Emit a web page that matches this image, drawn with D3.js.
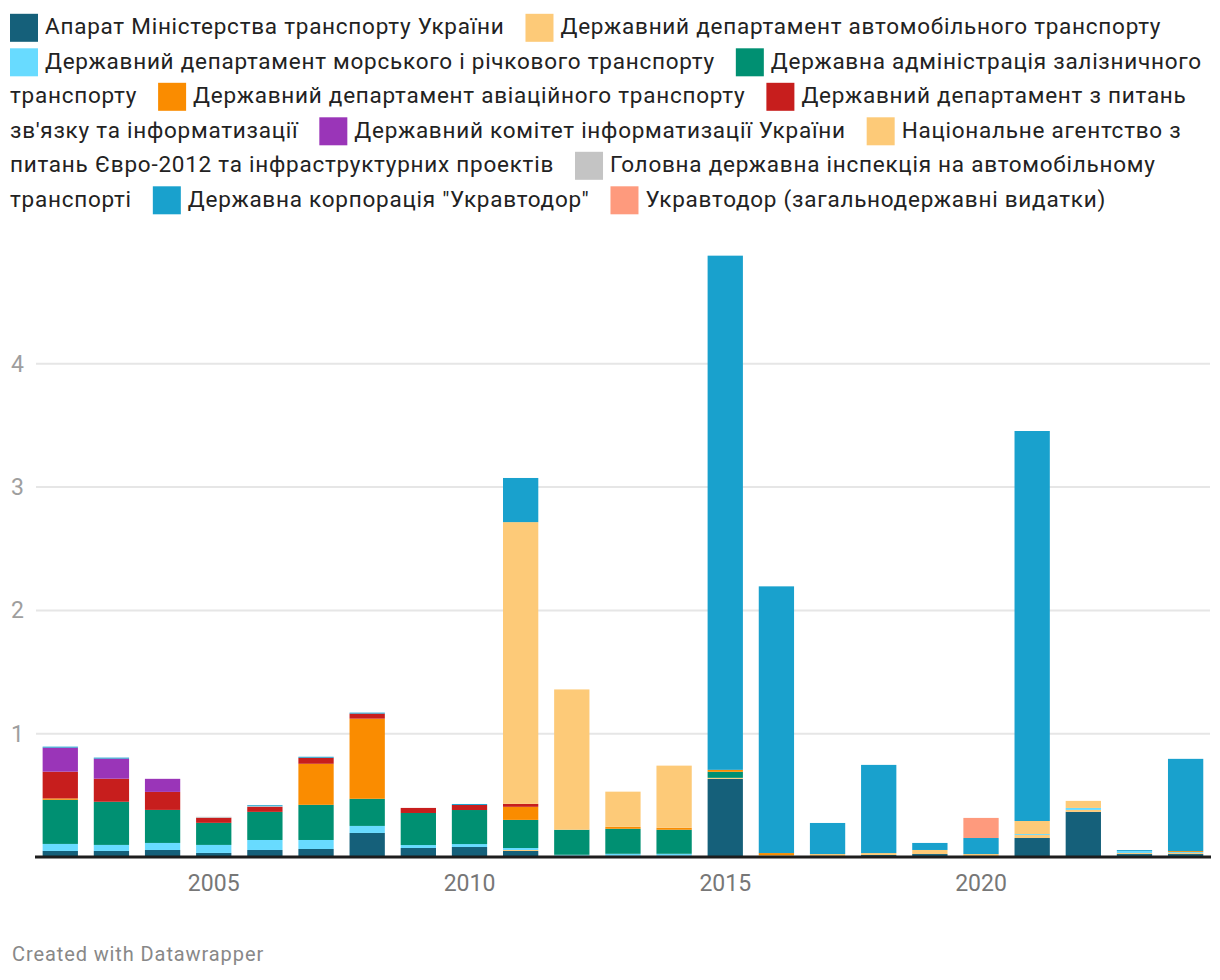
<!DOCTYPE html>
<html><head><meta charset="utf-8">
<script src="https://cdn.jsdelivr.net/npm/d3@7"></script>
<style>
body{margin:0;background:#fff;}
svg{display:block;font-family:Roboto,"Noto Sans",sans-serif;}
</style></head>
<body><svg id="c" width="1220" height="980"></svg>
<script>
const years = d3.range(2002, 2025);
const seriesNames = [
  "Апарат Міністерства транспорту України",
  "Державний департамент автомобільного транспорту",
  "Державний департамент морського і річкового транспорту",
  "Державна адміністрація залізничного транспорту",
  "Державний департамент авіаційного транспорту",
  "Державний департамент з питань зв'язку та інформатизації",
  "Державний комітет інформатизації України",
  "Національне агентство з питань Євро-2012 та інфраструктурних проектів",
  "Головна державна інспекція на автомобільному транспорті",
  "Державна корпорація \"Укравтодор\"",
  "Укравтодор (загальнодержавні видатки)"
];
const seriesColors = ["#15607a","#fdca78","#68dbff","#009072","#fa8c00","#c71e1d","#9a35b8","#fdca78","#c4c4c4","#19a1cd","#fe9a7d"];

// values per year 2002..2024
const aparat   = [0.049,0.049,0.057,0.033,0.057,0.065,0.195,0.073,0.081,0.049,0.005,0.005,0.005,0.634,0.008,0.008,0.016,0.024,0.008,0.154,0.366,0.024,0.024];
const avto     = [0,0,0,0,0,0,0,0,0,0.008,0.005,0.005,0.005,0.008,0.008,0.016,0.016,0.033,0.016,0.024,0.016,0.008,0.008];
const morskyi  = [0.057,0.049,0.057,0.065,0.081,0.073,0.057,0.024,0.024,0.016,0.008,0.016,0.016,0,0,0,0,0,0,0.008,0.016,0.016,0.008];
const zaliznyc = [0.358,0.350,0.268,0.179,0.228,0.285,0.220,0.260,0.276,0.228,0.203,0.203,0.195,0.049,0,0,0,0,0,0,0,0,0];
const aviatsia = [0.011,0,0,0,0,0.333,0.650,0,0,0.106,0,0.016,0.016,0.016,0.016,0,0,0,0,0,0,0,0.008];
const zviazok  = [0.217,0.187,0.146,0.041,0.041,0.049,0.041,0.041,0.041,0.024,0,0,0,0,0,0,0,0,0,0,0,0,0];
const komitet  = [0.195,0.163,0.106,0,0,0,0,0,0,0,0,0,0,0,0,0,0,0,0,0,0,0,0];
const agentstvo= [0,0,0,0,0,0,0,0,0,2.285,1.138,0.285,0.504,0,0,0,0,0,0,0.106,0.057,0,0];
const inspektsia=[0,0,0,0.008,0.005,0,0,0,0,0,0,0,0,0,0,0,0,0,0,0,0,0,0];
const ukravtodor=[0.008,0.008,0,0,0.008,0.008,0.008,0,0.008,0.358,0,0,0,4.170,2.163,0.252,0.715,0.057,0.130,3.163,0,0.008,0.748];
const ukrZahal = [0,0,0,0,0,0,0,0,0,0,0,0,0,0,0,0,0,0,0.163,0,0,0,0];
const seriesValues = [aparat,avto,morskyi,zaliznyc,aviatsia,zviazok,komitet,agentstvo,inspektsia,ukravtodor,ukrZahal];
const yTicks = [1,2,3,4];
const xTickYears = [2005,2010,2015,2020];

const svg = d3.select("#c");
const keys = seriesNames.map((d,i)=>"s"+i);
const table = years.map((yr,j)=>{const o={year:yr}; keys.forEach((k,i)=>o[k]=seriesValues[i][j]); return o;});

const x = d3.scaleBand().domain(years).range([34.7,1211.2]).paddingInner(0.31).paddingOuter(0.155);
const y = d3.scaleLinear().domain([0,5]).range([857, 857-123.3*5]);

// gridlines
svg.append("g").selectAll("line").data(yTicks).join("line")
  .attr("x1",36).attr("x2",1210).attr("y1",d=>y(d)).attr("y2",d=>y(d))
  .attr("stroke","#e6e6e6").attr("stroke-width",2);
svg.append("g").selectAll("text").data(yTicks).join("text")
  .attr("x",11).attr("y",d=>y(d)).attr("dy","0.35em")
  .attr("font-size",23).attr("fill","#9e9e9e").text(d=>d);

// bars
const stack = d3.stack().keys(keys)(table);
svg.append("g").selectAll("g").data(stack).join("g")
  .attr("fill",(d,i)=>seriesColors[i])
  .selectAll("rect").data(d=>d.filter(p=>p[1]-p[0]>0)).join("rect")
  .attr("x",d=>x(d.data.year)).attr("width",x.bandwidth())
  .attr("y",d=>y(d[1])).attr("height",d=>y(d[0])-y(d[1]));

// baseline
svg.append("line").attr("x1",35).attr("x2",1211).attr("y1",857).attr("y2",857)
  .attr("stroke","#1d1d1d").attr("stroke-width",3);

// x labels
svg.append("g").selectAll("text").data(xTickYears).join("text")
  .attr("x",d=>x(d)+x.bandwidth()/2).attr("y",891).attr("text-anchor","middle")
  .attr("font-size",23).attr("fill","#777").text(d=>d);

// legend flow
const lg = svg.append("g").attr("font-size",22.5).attr("letter-spacing",0.75).attr("fill","#222");
const meas = lg.append("text");
function w(t){meas.text(t); return meas.node().getComputedTextLength();}
const spaceW = w("a b") - w("ab");
const maxW = 1212, left = 10, lineH = 34.5, base0 = 34.3;
let cx = left, line = 0;
seriesNames.forEach((name,i)=>{
  const words = name.split(" ");
  if(i>0) cx += 21;
  const unit = 28 + 7 + w(words[0]);
  if(cx + unit > maxW){ line++; cx = left; }
  const by = base0 + line*lineH;
  lg.append("rect").attr("x",cx).attr("y",by-20.5).attr("width",28).attr("height",28).attr("fill",seriesColors[i]);
  cx += 35;
  lg.append("text").attr("x",cx).attr("y",by).text(words[0]);
  cx += w(words[0]);
  for(let k=1;k<words.length;k++){
    const ww = w(words[k]);
    if(cx + spaceW + ww > maxW){ line++; cx = left; }
    else cx += spaceW;
    lg.append("text").attr("x",cx).attr("y",base0+line*lineH).text(words[k]);
    cx += ww;
  }
});
meas.remove();

svg.append("text").attr("x",12).attr("y",961).attr("font-size",20).attr("letter-spacing",0.9).attr("fill","#888").text("Created with Datawrapper");
</script></body></html>
